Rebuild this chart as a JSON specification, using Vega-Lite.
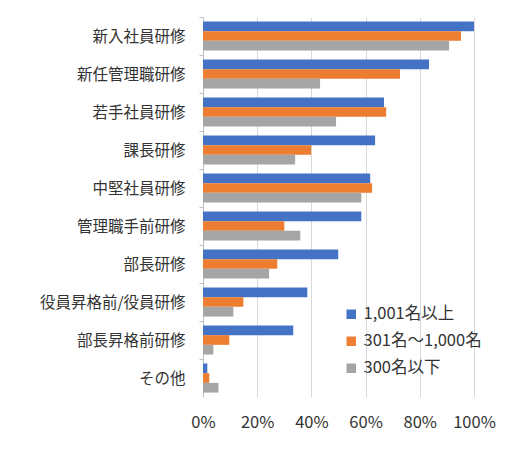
{
  "$schema": "https://vega.github.io/schema/vega-lite/v6.json",
  "width": 271,
  "height": 380,
  "autosize": "none",
  "padding": {"left": 203, "top": 17, "right": 50, "bottom": 63},
  "background": "white",
  "data": {
    "values": [
      {"category": "新入社員研修", "group": "1,001名以上", "value": 100},
      {"category": "新入社員研修", "group": "301名～1,000名", "value": 95.2},
      {"category": "新入社員研修", "group": "300名以下", "value": 90.8},
      {"category": "新任管理職研修", "group": "1,001名以上", "value": 83.4},
      {"category": "新任管理職研修", "group": "301名～1,000名", "value": 72.7},
      {"category": "新任管理職研修", "group": "300名以下", "value": 43.2},
      {"category": "若手社員研修", "group": "1,001名以上", "value": 66.8},
      {"category": "若手社員研修", "group": "301名～1,000名", "value": 67.6},
      {"category": "若手社員研修", "group": "300名以下", "value": 49.1},
      {"category": "課長研修", "group": "1,001名以上", "value": 63.5},
      {"category": "課長研修", "group": "301名～1,000名", "value": 39.9},
      {"category": "課長研修", "group": "300名以下", "value": 34.0},
      {"category": "中堅社員研修", "group": "1,001名以上", "value": 61.7},
      {"category": "中堅社員研修", "group": "301名～1,000名", "value": 62.4},
      {"category": "中堅社員研修", "group": "300名以下", "value": 58.4},
      {"category": "管理職手前研修", "group": "1,001名以上", "value": 58.4},
      {"category": "管理職手前研修", "group": "301名～1,000名", "value": 30.0},
      {"category": "管理職手前研修", "group": "300名以下", "value": 35.9},
      {"category": "部長研修", "group": "1,001名以上", "value": 49.9},
      {"category": "部長研修", "group": "301名～1,000名", "value": 27.4},
      {"category": "部長研修", "group": "300名以下", "value": 24.4},
      {"category": "役員昇格前/役員研修", "group": "1,001名以上", "value": 38.5},
      {"category": "役員昇格前/役員研修", "group": "301名～1,000名", "value": 14.9},
      {"category": "役員昇格前/役員研修", "group": "300名以下", "value": 11.2},
      {"category": "部長昇格前研修", "group": "1,001名以上", "value": 33.3},
      {"category": "部長昇格前研修", "group": "301名～1,000名", "value": 9.7},
      {"category": "部長昇格前研修", "group": "300名以下", "value": 3.8},
      {"category": "その他", "group": "1,001名以上", "value": 1.6},
      {"category": "その他", "group": "301名～1,000名", "value": 2.3},
      {"category": "その他", "group": "300名以下", "value": 5.7}
    ]
  },
  "mark": {"type": "bar"},
  "encoding": {
    "y": {
      "field": "category",
      "type": "nominal",
      "sort": null,
      "title": null,
      "scale": {"paddingInner": 0, "paddingOuter": 0},
      "axis": {
        "domainColor": "#BFBFBF",
        "tickColor": "#BFBFBF",
        "tickSize": 4,
        "tickOffset": -19,
        "labelOffset": 19,
        "labelPadding": 14,
        "labelFontSize": 15.5,
        "labelColor": "#333333",
        "labelLimit": 200
      }
    },
    "yOffset": {
      "field": "group",
      "type": "nominal",
      "sort": ["1,001名以上", "301名～1,000名", "300名以下"],
      "scale": {"paddingInner": 0, "paddingOuter": 0.46}
    },
    "x": {
      "field": "value",
      "type": "quantitative",
      "title": null,
      "scale": {"domain": [0, 100], "nice": false},
      "axis": {
        "values": [0, 20, 40, 60, 80, 100],
        "labelExpr": "datum.value + '%'",
        "labelOverlap": false,
        "labelBound": false,
        "labelFlush": false,
        "domain": false,
        "ticks": false,
        "tickSize": 0,
        "labelPadding": 17,
        "labelFontSize": 16.5,
        "labelColor": "#333333",
        "gridColor": "#D9D9D9"
      }
    },
    "color": {
      "field": "group",
      "type": "nominal",
      "scale": {
        "domain": ["1,001名以上", "301名～1,000名", "300名以下"],
        "range": ["#4472C4", "#ED7D31", "#A5A5A5"]
      },
      "legend": {
        "title": null,
        "orient": "none",
        "legendX": 140,
        "legendY": 289,
        "padding": 0,
        "symbolType": "square",
        "symbolSize": 90,
        "symbolStrokeWidth": 0,
        "labelFontSize": 16.5,
        "labelColor": "#333333",
        "labelOffset": 4,
        "rowPadding": 10
      }
    }
  },
  "config": {
    "font": "Noto Sans CJK JP",
    "view": {"stroke": null}
  }
}
